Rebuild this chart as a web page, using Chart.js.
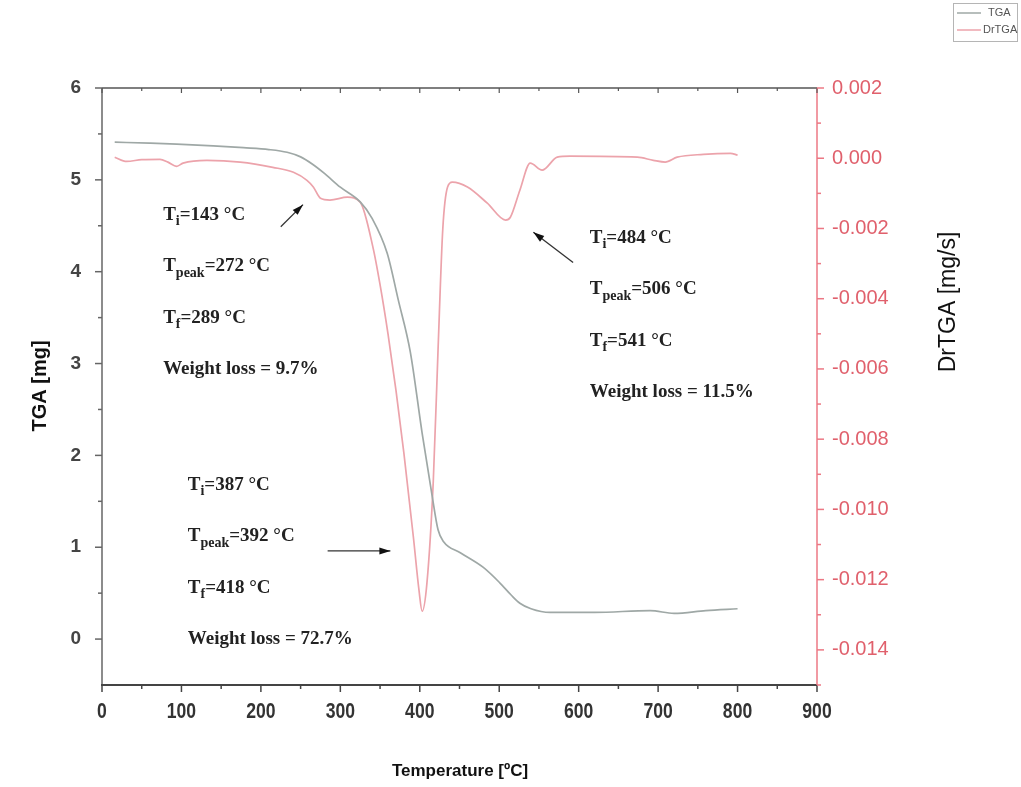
<!DOCTYPE html>
<html>
<head>
<meta charset="utf-8">
<script src="https://cdn.jsdelivr.net/npm/chart.js@4.4.1/dist/chart.umd.min.js"></script>
<style>
  html, body { margin: 0; padding: 0; background: #fff; }
  canvas { display: block; }
</style>
</head>
<body>
<canvas id="mainChart" width="1021" height="787"></canvas>
<script>
// TGA curve (temperature in °C, mass in mg)
const tempTGA = [16, 60, 94, 140, 178, 210, 233, 250, 265, 280, 300, 325, 340, 359, 373, 388, 403, 415, 423, 430, 451, 480, 501, 515, 526, 540, 564, 620, 690, 720, 760, 800];
const tgaMass = [5.41, 5.40, 5.39, 5.37, 5.35, 5.33, 5.30, 5.25, 5.17, 5.07, 4.92, 4.76, 4.58, 4.20, 3.69, 3.13, 2.24, 1.59, 1.19, 1.06, 0.94, 0.78, 0.61, 0.48, 0.39, 0.33, 0.29, 0.29, 0.31, 0.28, 0.31, 0.33];

// derivative curve (temperature in °C, mg/s)
const tempDr = [16, 31, 50, 73, 83, 94, 102, 132, 174, 215, 241, 258, 266, 275, 287, 309, 325, 341, 350, 360, 370, 380, 392, 399, 403, 409, 417, 423, 429, 435, 441, 460, 485, 508, 514, 526, 539, 554, 573, 589, 674, 694, 709, 724, 757, 791, 800];
const drRate = [0.00003, -0.00009, -0.00004, -0.00003, -0.00011, -0.00023, -0.00014, -0.00006, -0.00011, -0.00026, -0.00040, -0.00063, -0.00082, -0.00114, -0.00119, -0.00111, -0.00125, -0.00253, -0.0036, -0.0050, -0.0066, -0.0084, -0.0108, -0.0123, -0.0129, -0.0121, -0.0092, -0.00545, -0.0020, -0.00082, -0.00068, -0.00082, -0.00128, -0.00176, -0.00168, -0.00091, -0.00014, -0.00034, 0.00003, 0.00006, 0.00003, -0.00006, -0.00011, 0.00003, 0.00011, 0.00014, 0.00009];

const xTicks = [0, 100, 200, 300, 400, 500, 600, 700, 800, 900];
const yTicks = [0, 1, 2, 3, 4, 5, 6];
const y2Ticks = [0.002, 0.000, -0.002, -0.004, -0.006, -0.008, -0.010, -0.012, -0.014];

// text notes next to the peaks: [temp, mass] of first line, then the lines
const notes = [
    { at: [77, 4.62], lines: [['T', 'i', '=143 °C'], ['T', 'peak', '=272 °C'], ['T', 'f', '=289 °C'], ['Weight loss = 9.7%']] },
    { at: [614, 4.37], lines: [['T', 'i', '=484 °C'], ['T', 'peak', '=506 °C'], ['T', 'f', '=541 °C'], ['Weight loss = 11.5%']] },
    { at: [108, 1.68], lines: [['T', 'i', '=387 °C'], ['T', 'peak', '=392 °C'], ['T', 'f', '=418 °C'], ['Weight loss = 72.7%']] }
];
// arrows: [fromTemp, fromMass, toTemp, toMass]
const arrows = [
    [225, 4.49, 253, 4.73],
    [593, 4.10, 543, 4.43],
    [284, 0.96, 363, 0.96]
];

const GRAY = '#9fa8a6';
const PINK = '#eca3ab';
const RED_AXIS = '#ec7884';

function pts(xs, ys) {
    return xs.map((t, i) => ({ x: t, y: ys[i] }));
}

function line(ctx, x1, y1, x2, y2, color, w) {
    ctx.beginPath();
    ctx.strokeStyle = color;
    ctx.lineWidth = w;
    ctx.moveTo(x1, y1);
    ctx.lineTo(x2, y2);
    ctx.stroke();
}

function arrow(ctx, x1, y1, x2, y2) {
    const ang = Math.atan2(y2 - y1, x2 - x1);
    line(ctx, x1, y1, x2, y2, '#333', 1.3);
    ctx.beginPath();
    ctx.fillStyle = '#111';
    ctx.moveTo(x2, y2);
    ctx.lineTo(x2 - 11 * Math.cos(ang) + 3.5 * Math.sin(ang), y2 - 11 * Math.sin(ang) - 3.5 * Math.cos(ang));
    ctx.lineTo(x2 - 11 * Math.cos(ang) - 3.5 * Math.sin(ang), y2 - 11 * Math.sin(ang) + 3.5 * Math.cos(ang));
    ctx.closePath();
    ctx.fill();
}

const serif = '"Liberation Serif", "Times New Roman", serif';

function richLine(ctx, x, y, parts) {
    ctx.fillStyle = '#222';
    ctx.textBaseline = 'middle';
    ctx.textAlign = 'left';
    let cx = x;
    parts.forEach((p, i) => {
        const isSub = parts.length === 3 && i === 1;
        ctx.font = isSub ? 'bold 14px ' + serif : 'bold 19px ' + serif;
        ctx.fillText(p, cx, isSub ? y + 7 : y);
        cx += ctx.measureText(p).width;
    });
}

const decorPlugin = {
    id: 'decor',
    afterDatasetsDraw(chart) {
        const { ctx, chartArea: a, scales } = chart;
        const x = scales.x, y = scales.y, y2 = scales.y2;
        ctx.save();

        // frame
        line(ctx, a.left, a.top, a.right, a.top, '#555', 1.5);
        line(ctx, a.left, a.top, a.left, a.bottom, '#666', 1.5);
        line(ctx, a.left - 1, a.bottom, a.right, a.bottom, '#444', 1.8);
        line(ctx, a.right, a.top, a.right, a.bottom, RED_AXIS, 1.5);

        // bottom / top ticks
        for (let v = 0; v <= 900; v += 50) {
            const px = x.getPixelForValue(v);
            const major = v % 100 === 0;
            line(ctx, px, a.bottom, px, a.bottom + (major ? 7 : 4), '#444', 1.5);
            line(ctx, px, a.top, px, a.top + (major ? 5 : 3), '#555', 1.2);
        }
        // condensed bold labels under the temperature axis
        ctx.fillStyle = '#333';
        ctx.textAlign = 'center';
        ctx.textBaseline = 'middle';
        ctx.font = 'bold 22px Arial, "Liberation Sans", sans-serif';
        xTicks.forEach(v => {
            ctx.save();
            ctx.translate(x.getPixelForValue(v), a.bottom + 27);
            ctx.scale(0.8, 1);
            ctx.fillText(String(v), 0, 0);
            ctx.restore();
        });
        // left ticks
        for (let v = 0; v <= 6; v += 0.5) {
            const py = y.getPixelForValue(v);
            const major = Number.isInteger(v);
            line(ctx, a.left, py, a.left - (major ? 7 : 4), py, '#666', 1.5);
        }
        // right ticks
        for (let k = -15; k <= 2; k++) {
            const py = y2.getPixelForValue(k / 1000);
            const major = k % 2 === 0;
            line(ctx, a.right, py, a.right + (major ? 7 : 4), py, RED_AXIS, 1.5);
        }

        // axis titles
        ctx.fillStyle = '#111';
        ctx.textAlign = 'center';
        ctx.textBaseline = 'middle';
        ctx.save();
        ctx.translate(40, 386);
        ctx.rotate(-Math.PI / 2);
        ctx.font = 'bold 20px Arial, "Liberation Sans", sans-serif';
        ctx.fillText('TGA [mg]', 0, 0);
        ctx.restore();

        ctx.save();
        ctx.translate(949, 302);
        ctx.rotate(-Math.PI / 2);
        ctx.font = '23px Arial, "Liberation Sans", sans-serif';
        ctx.fillText('DrTGA [mg/s]', 0, 0);
        ctx.restore();

        ctx.font = 'bold 17px Arial, "Liberation Sans", sans-serif';
        ctx.fillText('Temperature [ºC]', 460, 771);

        // notes
        notes.forEach(n => {
            const nx = x.getPixelForValue(n.at[0]);
            const ny = y.getPixelForValue(n.at[1]);
            n.lines.forEach((ln, i) => richLine(ctx, nx, ny + i * 51.5, ln));
        });
        arrows.forEach(ar => {
            arrow(ctx, x.getPixelForValue(ar[0]), y.getPixelForValue(ar[1]),
                x.getPixelForValue(ar[2]), y.getPixelForValue(ar[3]));
        });

        // legend box in the corner
        ctx.fillStyle = '#fff';
        ctx.fillRect(953, 3, 65, 39);
        ctx.strokeStyle = '#b5b5b5';
        ctx.lineWidth = 1;
        ctx.strokeRect(953.5, 3.5, 64, 38);
        line(ctx, 957, 13, 981, 13, GRAY, 1.5);
        line(ctx, 957, 30, 981, 30, PINK, 1.5);
        ctx.fillStyle = '#555';
        ctx.font = '11px Arial, "Liberation Sans", sans-serif';
        ctx.textAlign = 'left';
        ctx.fillText('TGA', 988, 13);
        ctx.fillText('DrTGA', 983, 30);

        ctx.restore();
    }
};

const ctx = document.getElementById('mainChart').getContext('2d');

new Chart(ctx, {
    type: 'line',
    data: {
        datasets: [
            {
                label: 'TGA',
                data: pts(tempTGA, tgaMass),
                yAxisID: 'y',
                borderColor: GRAY,
                borderWidth: 1.7,
                pointRadius: 0,
                cubicInterpolationMode: 'monotone',
                fill: false
            },
            {
                label: 'DrTGA',
                data: pts(tempDr, drRate),
                yAxisID: 'y2',
                borderColor: PINK,
                borderWidth: 1.7,
                pointRadius: 0,
                cubicInterpolationMode: 'monotone',
                fill: false
            }
        ]
    },
    options: {
        responsive: false,
        animation: false,
        layout: { padding: { top: 88, left: 0, right: 0, bottom: 0 } },
        plugins: {
            legend: { display: false },
            tooltip: { enabled: false }
        },
        scales: {
            x: {
                type: 'linear',
                min: 0,
                max: 900,
                afterFit: s => { s.height = 102; },
                afterBuildTicks: s => { s.ticks = xTicks.map(v => ({ value: v })); },
                grid: { display: false, drawTicks: false },
                border: { display: false },
                ticks: { display: false }
            },
            y: {
                position: 'left',
                min: -0.5,
                max: 6,
                afterFit: s => { s.width = 102; },
                afterBuildTicks: s => { s.ticks = yTicks.map(v => ({ value: v })); },
                grid: { display: false, drawTicks: false },
                border: { display: false },
                ticks: {
                    autoSkip: false,
                    padding: 21,
                    color: '#444',
                    font: { family: 'Arial, "Liberation Sans", sans-serif', size: 19, weight: 'bold' }
                }
            },
            y2: {
                position: 'right',
                min: -0.015,
                max: 0.002,
                afterFit: s => { s.width = 204; },
                afterBuildTicks: s => { s.ticks = y2Ticks.map(v => ({ value: v })); },
                grid: { display: false, drawTicks: false },
                border: { display: false },
                ticks: {
                    autoSkip: false,
                    padding: 15,
                    color: '#e0606c',
                    font: { family: 'Arial, "Liberation Sans", sans-serif', size: 20 },
                    callback: v => v.toFixed(3)
                }
            }
        }
    },
    plugins: [decorPlugin]
});
</script>
</body>
</html>
